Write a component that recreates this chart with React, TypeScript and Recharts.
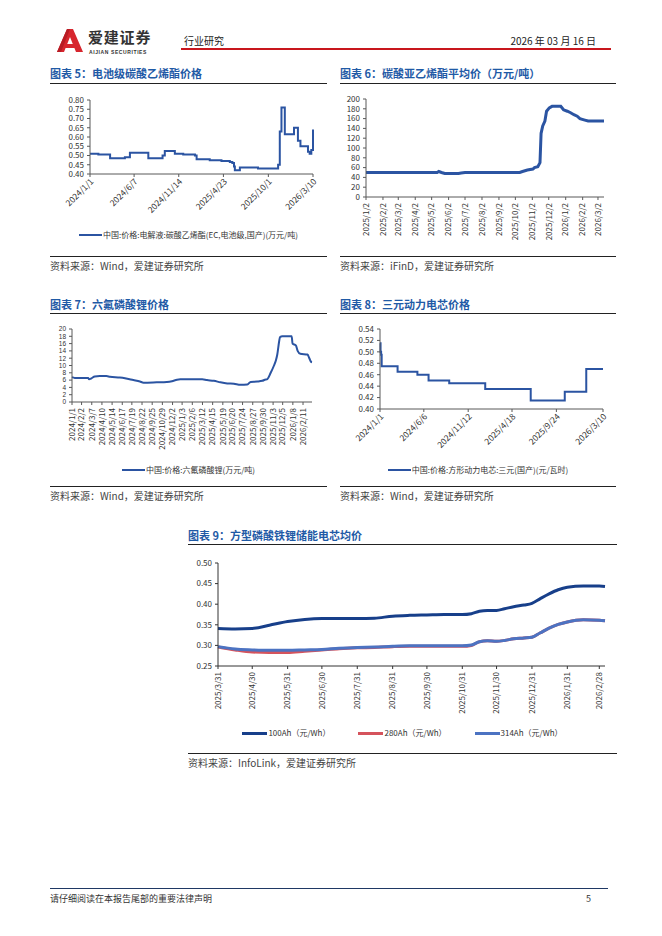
import React from "react";
import { LineChart, Line, XAxis, YAxis, Legend } from "recharts";

const FONT = '"Noto Sans CJK SC", "Noto Sans", sans-serif';
const NUM_FONT = '"Liberation Sans", Arial, sans-serif';
const TITLE_BLUE = "#1F5AA6";
const LINE_BLUE = "#2B54A2";
const TEXT = "#333333";
const AXIS = "#595959";

// 图表5 电池级碳酸乙烯酯 (万元/吨)
const ecTickLabels = ["2024/1/1", "2024/6/7", "2024/11/14", "2025/4/23", "2025/10/1", "2026/3/10"];
const ecYTicks = [0.4, 0.45, 0.5, 0.55, 0.6, 0.65, 0.7, 0.75, 0.8];
const ecDates = [
  "2024/1/1", "2024/1/31", "2024/3/13", "2024/5/5", "2024/5/23", "2024/7/28", "2024/9/17",
  "2024/9/25", "2024/10/31", "2024/11/30", "2025/1/11", "2025/1/17", "2025/3/5", "2025/4/16",
  "2025/5/16", "2025/5/25", "2025/5/31", "2025/6/3", "2025/6/21", "2025/8/25", "2025/11/5",
  "2025/11/11", "2025/11/17", "2025/11/29", "2026/1/1", "2026/1/15", "2026/1/24", "2026/2/20",
  "2026/2/26", "2026/3/4", "2026/3/10",
];
const ecValues = [
  0.51, 0.505, 0.485, 0.49, 0.515, 0.485, 0.5, 0.525, 0.51, 0.505, 0.5, 0.48, 0.475, 0.47,
  0.465, 0.46, 0.44, 0.42, 0.435, 0.43, 0.45, 0.63, 0.76, 0.615, 0.65, 0.58, 0.55, 0.52, 0.51,
  0.53, 0.64,
];

// 图表6 碳酸亚乙烯酯平均价 (万元/吨)
const vcTickLabels = [
  "2025/1/2", "2025/2/2", "2025/3/2", "2025/4/2", "2025/5/2", "2025/6/2", "2025/7/2", "2025/8/2",
  "2025/9/2", "2025/10/2", "2025/11/2", "2025/12/2", "2026/1/2", "2026/2/2", "2026/3/2",
];
const vcYTicks = [0, 20, 40, 60, 80, 100, 120, 140, 160, 180, 200];
const vcDates = [
  "2025/1/2", "2025/5/12", "2025/5/15", "2025/5/20", "2025/5/26", "2025/6/20", "2025/6/25",
  "2025/7/2", "2025/10/10", "2025/10/15", "2025/10/24", "2025/11/3", "2025/11/6", "2025/11/12",
  "2025/11/16", "2025/11/18", "2025/11/21", "2025/11/25", "2025/11/28", "2025/12/3", "2025/12/8",
  "2025/12/24", "2025/12/29", "2026/1/5", "2026/1/11", "2026/1/17", "2026/1/23", "2026/1/28",
  "2026/2/6", "2026/2/12", "2026/3/13",
];
const vcValues = [
  50, 50, 52, 50, 48, 48, 49, 50, 50, 52, 55, 57, 60, 62, 70, 130, 145, 155, 175, 182, 185, 185,
  178, 175, 172, 168, 165, 160, 157, 155, 155,
];

// 图表7 六氟磷酸锂 (万元/吨)
const lfTickLabels = [
  "2024/1/1", "2024/2/2", "2024/3/7", "2024/4/10", "2024/5/14", "2024/6/17", "2024/7/19",
  "2024/8/22", "2024/9/25", "2024/10/29", "2024/12/2", "2025/1/3", "2025/2/6", "2025/3/12",
  "2025/4/15", "2025/5/19", "2025/6/20", "2025/7/24", "2025/8/27", "2025/9/30", "2025/11/3",
  "2025/12/5", "2026/1/8", "2026/2/11",
];
const lfYTicks = [0, 2, 4, 6, 8, 10, 12, 14, 16, 18, 20];
const lfDates = [
  "2024/1/1", "2024/1/10", "2024/2/24", "2024/2/27", "2024/3/6", "2024/3/17", "2024/4/3",
  "2024/4/25", "2024/5/7", "2024/6/9", "2024/6/26", "2024/7/24", "2024/8/15", "2024/8/27",
  "2024/10/10", "2024/11/13", "2024/11/30", "2024/12/17", "2024/12/28", "2025/3/11", "2025/3/27",
  "2025/4/19", "2025/5/11", "2025/6/3", "2025/6/25", "2025/7/17", "2025/8/9", "2025/8/20",
  "2025/9/11", "2025/9/28", "2025/10/6", "2025/10/15", "2025/10/26", "2025/11/6", "2025/11/12",
  "2025/11/17", "2025/11/23", "2025/11/26", "2025/12/4", "2026/1/4", "2026/1/7", "2026/1/18",
  "2026/1/24", "2026/2/2", "2026/2/26", "2026/3/4", "2026/3/10", "2026/3/13",
];
const lfValues = [
  6.8, 6.6, 6.6, 6.2, 6.5, 7.0, 7.1, 7.1, 6.9, 6.7, 6.5, 6.0, 5.6, 5.3, 5.4, 5.5, 5.7, 6.1, 6.2,
  6.2, 6.0, 5.8, 5.4, 5.1, 5.0, 4.7, 4.8, 5.5, 5.6, 5.8, 6.1, 6.3, 8.0, 10.0, 11.3, 13.0, 16.5,
  17.8, 18.0, 18.0, 16.0, 15.5, 14.0, 13.2, 13.0, 12.0, 11.0, 10.9,
];

// 图表8 三元动力电芯 (元/瓦时)
const ncmTickLabels = ["2024/1/1", "2024/6/6", "2024/11/12", "2025/4/18", "2025/9/24", "2026/3/10"];
const ncmYTicks = [0.4, 0.42, 0.44, 0.46, 0.48, 0.5, 0.52, 0.54];
const ncmDates = [
  "2024/1/1", "2024/1/3", "2024/1/5", "2024/1/7", "2024/3/4", "2024/5/14", "2024/6/23",
  "2024/9/5", "2025/1/12", "2025/6/24", "2025/10/24", "2026/1/9", "2026/3/10",
];
const ncmValues = [0.515, 0.5, 0.495, 0.475, 0.465, 0.46, 0.45, 0.445, 0.435, 0.415, 0.43, 0.47, 0.47];

// 图表9 方型磷酸铁锂储能电芯均价 (元/Wh)
const lfpTickLabels = [
  "2025/3/31", "2025/4/30", "2025/5/31", "2025/6/30", "2025/7/31", "2025/8/31", "2025/9/30",
  "2025/10/31", "2025/11/30", "2025/12/31", "2026/1/31", "2026/2/28",
];
const lfpYTicks = [0.25, 0.3, 0.35, 0.4, 0.45, 0.5];
const lfpDates = [
  "2025/3/31", "2025/4/15", "2025/4/30", "2025/5/15", "2025/5/31", "2025/6/15", "2025/6/30",
  "2025/7/15", "2025/7/31", "2025/8/15", "2025/8/31", "2025/9/15", "2025/9/30", "2025/10/15",
  "2025/10/31", "2025/11/8", "2025/11/15", "2025/11/22", "2025/11/30", "2025/12/7", "2025/12/15",
  "2025/12/24", "2025/12/31", "2026/1/7", "2026/1/15", "2026/1/23", "2026/1/31", "2026/2/14",
  "2026/2/28", "2026/3/5",
];
const cell100Ah = [
  0.341, 0.34, 0.341, 0.349, 0.358, 0.363, 0.365, 0.365, 0.365, 0.366, 0.371, 0.373, 0.374, 0.375,
  0.375, 0.377, 0.383, 0.385, 0.385, 0.389, 0.394, 0.398, 0.402, 0.413, 0.425, 0.435, 0.441,
  0.444, 0.444, 0.443,
];
const cell280Ah = [
  0.296, 0.289, 0.284, 0.283, 0.283, 0.286, 0.289, 0.292, 0.294, 0.295, 0.297, 0.298, 0.298, 0.298,
  0.298, 0.3, 0.309, 0.311, 0.31, 0.312, 0.316, 0.318, 0.32, 0.33, 0.342, 0.351, 0.357, 0.362,
  0.361, 0.36,
];
const cell314Ah = [
  0.297, 0.291, 0.289, 0.288, 0.288, 0.289, 0.29, 0.293, 0.295, 0.296, 0.298, 0.299, 0.299, 0.299,
  0.299, 0.301, 0.309, 0.311, 0.31, 0.312, 0.316, 0.318, 0.32, 0.33, 0.342, 0.351, 0.357, 0.362,
  0.361, 0.36,
];

const toT = (s: string) => {
  const [y, m, d] = s.split("/").map(Number);
  return Date.UTC(y, m - 1, d);
};
const fmtDate = (t: number) => {
  const d = new Date(t);
  return `${d.getUTCFullYear()}/${d.getUTCMonth() + 1}/${d.getUTCDate()}`;
};

const RotTick = (props: any) => {
  const { x, y, payload, angle, size } = props;
  const px = angle === -90 ? x : x + 2;
  const py = y + 1;
  return (
    <text
      x={px}
      y={py}
      dy="0.35em"
      textAnchor="end"
      fontSize={size}
      fill={TEXT}
      fontFamily={FONT}
      transform={`rotate(${angle} ${px} ${py})`}
    >
      {fmtDate(payload.value)}
    </text>
  );
};

const makeLegend = (lineW: number, thick: number, gap: number) => (props: any) => {
  const items = props.payload || [];
  return (
    <div
      style={{
        display: "flex",
        justifyContent: "center",
        gap,
        fontSize: 8,
        fontFamily: FONT,
        color: TEXT,
        lineHeight: "10px",
      }}
    >
      {items.map((p: any) => (
        <span key={p.value} style={{ display: "inline-flex", alignItems: "center" }}>
          <span style={{ width: lineW, height: thick, background: p.color, marginRight: 1 }} />
          {p.value}
        </span>
      ))}
    </div>
  );
};

interface Series {
  key: string;
  name: string;
  color: string;
  width: number;
}

interface PanelChartProps {
  width: number;
  height: number;
  top: number;
  right: number;
  yWidth: number;
  xHeight: number;
  data: any[];
  series: Series[];
  curve: "linear" | "stepAfter" | "monotone";
  yDomain: [number, number];
  yTicks: number[];
  yFmt: (v: number) => string;
  yFont?: number;
  yFamily?: string;
  xTicks: number[];
  xDomain: [number, number];
  angle: number;
  xFont?: number;
  legendTop?: number;
  legendLine?: number;
  legendThick?: number;
  legendGap?: number;
  axisColor?: string;
}

function PanelChart(p: PanelChartProps) {
  const axisColor = p.axisColor || AXIS;
  return (
    <LineChart
      width={p.width}
      height={p.height}
      data={p.data}
      margin={{ top: p.top, right: p.right, bottom: 0, left: 0 }}
    >
      <XAxis
        dataKey="t"
        type="number"
        scale="time"
        domain={p.xDomain}
        ticks={p.xTicks}
        interval={0}
        height={p.xHeight}
        tickSize={3}
        tickMargin={2}
        axisLine={{ stroke: axisColor }}
        tickLine={{ stroke: axisColor }}
        tick={<RotTick angle={p.angle} size={p.xFont || 8} />}
      />
      <YAxis
        type="number"
        domain={p.yDomain}
        ticks={p.yTicks}
        interval={0}
        width={p.yWidth}
        tickSize={3}
        tickMargin={3}
        allowDataOverflow
        axisLine={{ stroke: axisColor }}
        tickLine={{ stroke: axisColor }}
        tick={{ fontSize: p.yFont || 8, fill: TEXT, fontFamily: p.yFamily || FONT }}
        tickFormatter={p.yFmt}
      />
      {p.legendTop !== undefined && (
        <Legend
          layout="horizontal"
          verticalAlign="middle"
          align="center"
          wrapperStyle={{ top: p.legendTop, left: 0, width: p.width }}
          content={makeLegend(p.legendLine || 23, p.legendThick || 2.5, p.legendGap || 0)}
        />
      )}
      {p.series.map((s) => (
        <Line
          key={s.key}
          dataKey={s.key}
          name={s.name}
          type={p.curve}
          stroke={s.color}
          strokeWidth={s.width}
          dot={false}
          activeDot={false}
          isAnimationActive={false}
        />
      ))}
    </LineChart>
  );
}

function Panel(props: {
  left: number;
  width: number;
  titleY: number;
  ruleY: number;
  bottomY: number;
  title: string;
  source: string;
  children: React.ReactNode;
}) {
  const { left, width, titleY, ruleY, bottomY, title, source, children } = props;
  return (
    <>
      <div
        style={{
          position: "absolute",
          left,
          top: titleY - 8,
          height: 16,
          lineHeight: "16px",
          fontSize: 11,
          fontWeight: 700,
          color: TITLE_BLUE,
          fontFamily: FONT,
          whiteSpace: "nowrap",
        }}
      >
        {title}
      </div>
      <div style={{ position: "absolute", left, top: ruleY, width, height: 1, background: "#222" }} />
      <div style={{ position: "absolute", left, top: ruleY + 1 }}>{children}</div>
      <div style={{ position: "absolute", left, top: bottomY, width, height: 1, background: "#222" }} />
      <div
        style={{
          position: "absolute",
          left,
          top: bottomY + 3,
          height: 14,
          lineHeight: "14px",
          fontSize: 10,
          color: "#444",
          fontFamily: FONT,
          whiteSpace: "nowrap",
        }}
      >
        {source}
      </div>
    </>
  );
}

const fmt2 = (v: number) => v.toFixed(2);
const fmt0 = (v: number) => String(v);

export default function App() {
  const ecData = ecDates.map((d, i) => ({ t: toT(d), v: ecValues[i] }));
  const vcData = vcDates.map((d, i) => ({ t: toT(d), v: vcValues[i] }));
  const lfData = lfDates.map((d, i) => ({ t: toT(d), v: lfValues[i] }));
  const ncmData = ncmDates.map((d, i) => ({ t: toT(d), v: ncmValues[i] }));
  const lfpData = lfpDates.map((d, i) => ({
    t: toT(d),
    a: cell100Ah[i],
    b: cell280Ah[i],
    c: cell314Ah[i],
  }));

  return (
    <div
      style={{
        position: "absolute",
        left: 0,
        top: 0,
        width: 662,
        height: 936,
        background: "#fff",
        fontFamily: FONT,
        overflow: "hidden",
      }}
    >
      {/* header */}
      <svg style={{ position: "absolute", left: 57, top: 29 }} width={26} height={23} viewBox="0 0 26 23">
        <polygon points="10,0 16,0 26,23 19,23 13,8 7,23 0,23" fill="#D7262E" />
        <polygon points="9,15 18,15 19.5,19 7.5,19" fill="#D7262E" />
        <polygon points="10,0 13,0 4,23 0,23" fill="#B81C24" />
      </svg>
      <div
        style={{
          position: "absolute",
          left: 88,
          top: 29,
          fontSize: 15,
          fontWeight: 700,
          color: "#333",
          letterSpacing: 0.8,
          lineHeight: "16px",
          height: 16,
          whiteSpace: "nowrap",
        }}
      >
        爱建证券
      </div>
      <div
        style={{
          position: "absolute",
          left: 89,
          top: 49,
          fontSize: 5,
          fontWeight: 700,
          color: "#333",
          letterSpacing: 0.6,
          lineHeight: "6px",
          height: 6,
          fontFamily: NUM_FONT,
          whiteSpace: "nowrap",
        }}
      >
        AIJIAN SECURITIES
      </div>
      <div style={{ position: "absolute", left: 184, top: 34, fontSize: 10, color: "#222", lineHeight: "13px" }}>
        行业研究
      </div>
      <div
        style={{
          position: "absolute",
          right: 662 - 596,
          top: 34,
          fontSize: 10,
          color: "#222",
          lineHeight: "13px",
          whiteSpace: "nowrap",
        }}
      >
        2026 年 03 月 16 日
      </div>
      <div style={{ position: "absolute", left: 181, top: 48, width: 430, height: 2, background: "#C8161D" }} />

      {/* 图表5 */}
      <Panel left={50} width={277} titleY={73} ruleY={83} bottomY={256} title="图表 5：电池级碳酸乙烯酯价格" source="资料来源：Wind，爱建证券研究所">
        <PanelChart
          width={277}
          height={171}
          top={16}
          right={14}
          yWidth={40}
          xHeight={81}
          data={ecData}
          series={[{ key: "v", name: "中国:价格:电解液:碳酸乙烯酯(EC,电池级,国产)(万元/吨)", color: LINE_BLUE, width: 2 }]}
          curve="stepAfter"
          yDomain={[0.4, 0.8]}
          yTicks={ecYTicks}
          yFmt={fmt2}
          xTicks={ecTickLabels.map(toT)}
          xDomain={[toT(ecTickLabels[0]), toT(ecTickLabels[ecTickLabels.length - 1])]}
          angle={-45}
          xFont={8.5}
          legendTop={146}
          legendLine={23}
          legendThick={2.5}
        />
      </Panel>

      {/* 图表6 */}
      <Panel left={340} width={276} titleY={73} ruleY={83} bottomY={256} title="图表 6：碳酸亚乙烯酯平均价（万元/吨）" source="资料来源：iFinD，爱建证券研究所">
        <PanelChart
          width={276}
          height={171}
          top={15}
          right={12}
          yWidth={26}
          xHeight={58}
          data={vcData}
          series={[{ key: "v", name: "碳酸亚乙烯酯平均价", color: LINE_BLUE, width: 3 }]}
          curve="linear"
          yDomain={[0, 200]}
          yTicks={vcYTicks}
          yFmt={fmt0}
          xTicks={vcTickLabels.map(toT)}
          xDomain={[toT(vcTickLabels[0]), toT(vcDates[vcDates.length - 1])]}
          angle={-90}
        />
      </Panel>

      {/* 图表7 */}
      <Panel left={50} width={277} titleY={304} ruleY={313} bottomY={486} title="图表 7：六氟磷酸锂价格" source="资料来源：Wind，爱建证券研究所">
        <PanelChart
          width={277}
          height={172}
          top={15}
          right={15}
          yWidth={22}
          xHeight={84}
          data={lfData}
          series={[{ key: "v", name: "中国:价格:六氟磷酸锂(万元/吨)", color: LINE_BLUE, width: 2 }]}
          curve="monotone"
          yDomain={[0, 20]}
          yTicks={lfYTicks}
          yFmt={fmt0}
          yFont={6.5}
          yFamily={NUM_FONT}
          xTicks={lfTickLabels.map(toT)}
          xDomain={[toT(lfTickLabels[0]), toT(lfDates[lfDates.length - 1])]}
          angle={-90}
          legendTop={151}
          legendLine={23}
          legendThick={2.5}
        />
      </Panel>

      {/* 图表8 */}
      <Panel left={340} width={276} titleY={304} ruleY={313} bottomY={486} title="图表 8：三元动力电芯价格" source="资料来源：Wind，爱建证券研究所">
        <PanelChart
          width={276}
          height={172}
          top={15}
          right={13}
          yWidth={40}
          xHeight={77}
          data={ncmData}
          series={[{ key: "v", name: "中国:价格:方形动力电芯:三元(国产)(元/瓦时)", color: LINE_BLUE, width: 2 }]}
          curve="stepAfter"
          yDomain={[0.4, 0.54]}
          yTicks={ncmYTicks}
          yFmt={fmt2}
          xTicks={ncmTickLabels.map(toT)}
          xDomain={[toT(ncmTickLabels[0]), toT(ncmTickLabels[ncmTickLabels.length - 1])]}
          angle={-45}
          xFont={8.5}
          legendTop={151}
          legendLine={23}
          legendThick={2.5}
        />
      </Panel>

      {/* 图表9 */}
      <Panel left={188} width={429} titleY={535} ruleY={544} bottomY={753} title="图表 9：方型磷酸铁锂储能电芯均价" source="资料来源：InfoLink，爱建证券研究所">
        <PanelChart
          width={429}
          height={208}
          top={18}
          right={12}
          yWidth={30}
          xHeight={87}
          data={lfpData}
          series={[
            { key: "a", name: "100Ah（元/Wh）", color: "#173F8A", width: 3 },
            { key: "b", name: "280Ah（元/Wh）", color: "#D5535C", width: 3 },
            { key: "c", name: "314Ah（元/Wh）", color: "#4C73C2", width: 3 },
          ]}
          curve="monotone"
          yDomain={[0.25, 0.5]}
          yTicks={lfpYTicks}
          yFmt={fmt2}
          xTicks={lfpTickLabels.map(toT)}
          xDomain={[toT(lfpDates[0]), toT(lfpDates[lfpDates.length - 1])]}
          angle={-90}
          legendTop={183}
          legendLine={25}
          legendThick={3}
          legendGap={28}
          axisColor="#333"
        />
      </Panel>

      {/* footer */}
      <div style={{ position: "absolute", left: 50, top: 888, width: 558, height: 1, background: "#1F3864" }} />
      <div style={{ position: "absolute", left: 50, top: 893, fontSize: 9, color: "#333", lineHeight: "12px" }}>
        请仔细阅读在本报告尾部的重要法律声明
      </div>
      <div style={{ position: "absolute", left: 586, top: 893, fontSize: 9, color: "#333", lineHeight: "12px" }}>
        5
      </div>
    </div>
  );
}
